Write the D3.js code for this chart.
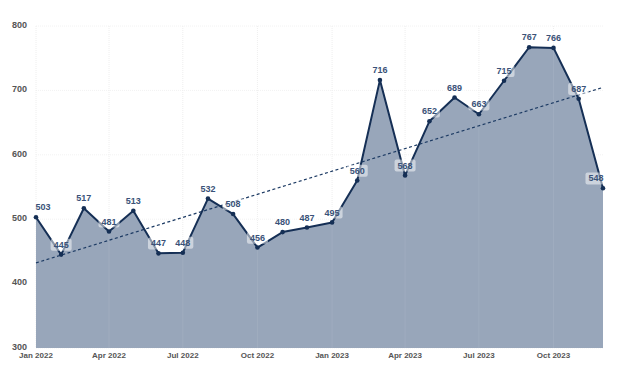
<!DOCTYPE html>
<html><head><meta charset="utf-8">
<script src="https://cdn.jsdelivr.net/npm/d3@7"></script>
<style>body{margin:0;background:#fff;} svg{display:block;}</style>
</head><body>
<svg id="c" width="624" height="368"></svg>
<script>
const months = ["2022-01","2022-02","2022-03","2022-04","2022-05","2022-06","2022-07","2022-08","2022-09","2022-10","2022-11","2022-12",
"2023-01","2023-02","2023-03","2023-04","2023-05","2023-06","2023-07","2023-08","2023-09","2023-10","2023-11","2023-12"];
const values = [503,445,517,481,513,447,448,532,508,456,480,487,495,560,716,568,652,689,663,715,767,766,687,548];
const yTicks = [300,400,500,600,700,800];
const xTickLabels = ["Jan 2022","Apr 2022","Jul 2022","Oct 2022","Jan 2023","Apr 2023","Jul 2023","Oct 2023"];
const xTickMonths = ["2022-01","2022-04","2022-07","2022-10","2023-01","2023-04","2023-07","2023-10"];

const parse = d3.timeParse("%Y-%m");
const data = months.map((m,i)=>({d:parse(m), v:values[i], i}));
const svg = d3.select("#c");
const m = {l:36, r:21, t:26, b:20};
const W = 624, H = 368;
const x = d3.scaleTime().domain(d3.extent(data,d=>d.d)).range([m.l, W-m.r]);
const y = d3.scaleLinear().domain([300,800]).range([H-m.b, m.t]);

// gridlines (under)
const g = svg.append("g");
g.selectAll(".hy").data(yTicks).join("line")
  .attr("x1",m.l).attr("x2",W-m.r).attr("y1",d=>y(d)).attr("y2",d=>y(d))
  .attr("stroke","#f2f2f2").attr("stroke-width",1).attr("stroke-dasharray","1,1");
g.selectAll(".vx").data(xTickMonths).join("line")
  .attr("x1",d=>x(parse(d))).attr("x2",d=>x(parse(d))).attr("y1",m.t).attr("y2",H-m.b)
  .attr("stroke","#eeeeee").attr("stroke-width",1).attr("stroke-dasharray","1,1");

// area
svg.append("path").datum(data)
  .attr("d", d3.area().x(d=>x(d.d)).y0(y(300)).y1(d=>y(d.v)))
  .attr("fill","#98a6ba");

// grid over area (faint)
svg.append("g").selectAll("line").data(xTickMonths.slice(1)).join("line")
  .attr("x1",d=>x(parse(d))).attr("x2",d=>x(parse(d))).attr("y1",m.t).attr("y2",H-m.b)
  .attr("stroke","#ffffff").attr("stroke-opacity",0.08).attr("stroke-width",1);

// trend line (least squares)
const n = data.length;
const mx = d3.mean(data,d=>d.i), my = d3.mean(data,d=>d.v);
const slope = d3.sum(data,d=>(d.i-mx)*(d.v-my))/d3.sum(data,d=>(d.i-mx)**2);
const icpt = my - slope*mx;
svg.append("line")
  .attr("x1",x(data[0].d)).attr("y1",y(icpt))
  .attr("x2",x(data[n-1].d)).attr("y2",y(icpt+slope*(n-1)))
  .attr("stroke","#1c3a63").attr("stroke-width",1.2).attr("stroke-dasharray","3,2.5");

// line
svg.append("path").datum(data)
  .attr("d", d3.line().x(d=>x(d.d)).y(d=>y(d.v)))
  .attr("fill","none").attr("stroke","#152f55").attr("stroke-width",2).attr("stroke-linejoin","round");

svg.append("g").selectAll("circle").data(data).join("circle")
  .attr("cx",d=>x(d.d)).attr("cy",d=>y(d.v)).attr("r",2.3).attr("fill","#152f55");

// value labels
const lg = svg.append("g");
data.forEach(d=>{
  let cx = x(d.d);
  cx = Math.max(m.l+7, Math.min(W-m.r-7, cx));
  const cy = y(d.v) - 10;
  const gg = lg.append("g");
  const t = gg.append("text").attr("x",cx).attr("y",cy).attr("dy","0.35em")
    .attr("text-anchor","middle").attr("font-family","Liberation Sans, Arial, sans-serif")
    .attr("font-weight","bold").attr("font-size","9px").attr("fill","#3a5278").text(d.v);
  const bb = t.node().getBBox();
  gg.insert("rect","text").attr("x",bb.x-3).attr("y",bb.y-1).attr("width",bb.width+6).attr("height",bb.height+2)
    .attr("rx",2).attr("fill","#ffffff").attr("fill-opacity",0.5);
});

// y axis labels
svg.append("g").selectAll("text").data(yTicks).join("text")
  .attr("x",27).attr("y",d=>y(d)).attr("dy","0.2em").attr("text-anchor","end")
  .attr("font-family","Liberation Sans, Arial, sans-serif").attr("font-weight","bold")
  .attr("font-size","9px").attr("fill","#555555").text(d=>d);

// x axis labels
svg.append("g").selectAll("text").data(xTickMonths).join("text")
  .attr("x",d=>x(parse(d))).attr("y",H-m.b+10).attr("text-anchor","middle")
  .attr("font-family","Liberation Sans, Arial, sans-serif").attr("font-weight","bold")
  .attr("font-size","8px").attr("fill","#555555").text((d,i)=>xTickLabels[i]);
</script>
</body></html>
